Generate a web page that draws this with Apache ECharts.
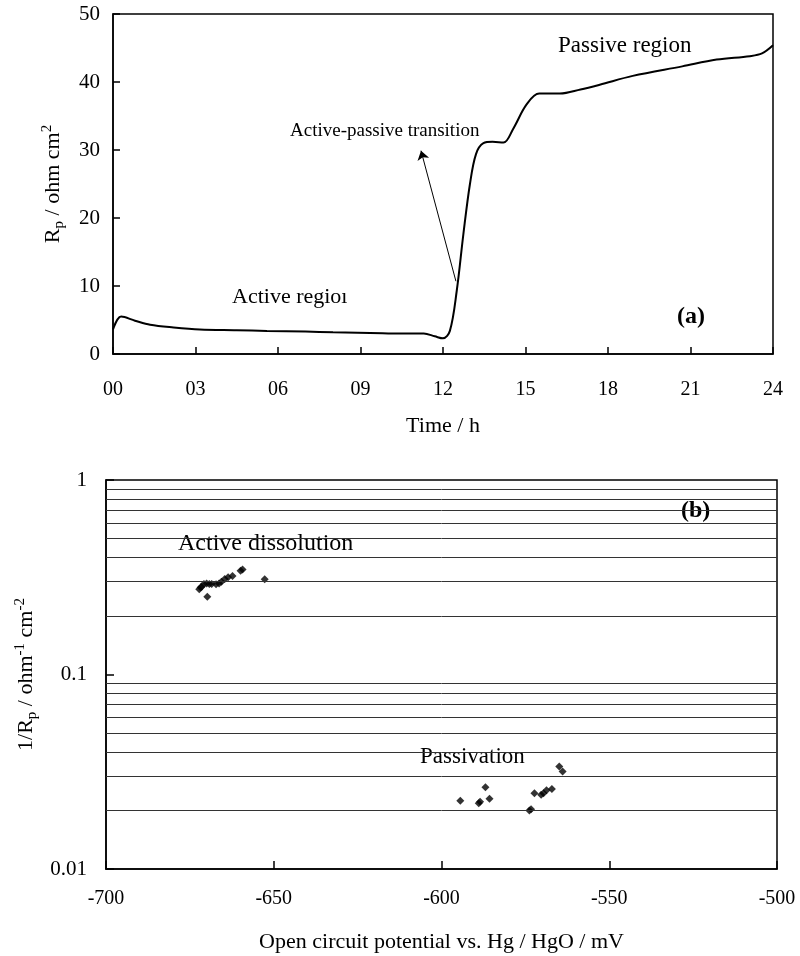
<!DOCTYPE html>
<html><head><meta charset="utf-8">
<script src="https://cdn.jsdelivr.net/npm/echarts@6/dist/echarts.min.js"></script>
<style>html,body{margin:0;padding:0;background:#fff}#c{width:800px;height:956px}</style>
</head><body><div id="c"></div>
<script>
// Panel (a): Rp vs time
const timeH = [0, 0.3, 0.8, 1.35, 2.2, 3.16, 4.5, 5.6, 7, 8.0, 9.8, 10.44, 11.3, 11.7, 12.0, 12.25, 12.5, 12.74, 12.98, 13.2, 13.47, 13.8, 14.2, 14.55, 15.04, 15.5, 16.25, 17.0, 17.7, 18.9, 20.7, 21.95, 23.16, 23.6, 24];
const rpVals = [3.6, 5.5, 4.9, 4.3, 3.9, 3.6, 3.5, 3.4, 3.3, 3.2, 3.05, 3.0, 3.0, 2.6, 2.3, 3.4, 9.3, 17.6, 25.0, 29.4, 31.0, 31.2, 31.1, 33.1, 36.7, 38.3, 38.3, 38.9, 39.6, 40.9, 42.3, 43.3, 43.8, 44.2, 45.4];
const xTickLabels = ['00','03','06','09','12','15','18','21','24'];

// Panel (b): 1/Rp vs open circuit potential
const activeE = [-672.2, -671.8, -671.5, -670.8, -670.0, -669.8, -669.2, -668.5, -667.2, -666.3, -665.6, -664.6, -663.6, -662.3, -659.9, -659.3, -652.7];
const activeInvRp = [0.274, 0.280, 0.283, 0.292, 0.294, 0.251, 0.292, 0.292, 0.291, 0.294, 0.300, 0.310, 0.316, 0.321, 0.342, 0.347, 0.309];
const passE = [-594.4, -588.9, -588.5, -586.9, -585.7, -573.8, -573.3, -572.3, -570.3, -569.6, -568.7, -567.1, -564.9, -563.9];
const passInvRp = [0.02245, 0.0218, 0.0222, 0.0263, 0.0230, 0.0200, 0.0203, 0.0245, 0.0241, 0.0245, 0.0254, 0.0258, 0.0337, 0.0317];
const gridLevels = [0.02,0.03,0.04,0.05,0.06,0.07,0.08,0.09,0.2,0.3,0.4,0.5,0.6,0.7,0.8,0.9];

const FONT = 'Liberation Serif';
const chart = echarts.init(document.getElementById('c'));
chart.setOption({
  animation: false,
  textStyle: { fontFamily: FONT, color: '#000' },
  grid: [
    { left: 113, top: 14, width: 660, height: 340, show: true, borderColor: '#000', borderWidth: 1.5, backgroundColor: 'transparent' },
    { left: 106, top: 480, width: 671, height: 389, show: true, borderColor: '#000', borderWidth: 1.5, backgroundColor: 'transparent' }
  ],
  xAxis: [
    { gridIndex: 0, type: 'value', min: 0, max: 24, interval: 3,
      axisLine: { lineStyle: { color: '#000', width: 1.5 } },
      axisTick: { inside: true, length: 7, lineStyle: { color: '#000', width: 1.5 } },
      axisLabel: { color: '#000', fontFamily: FONT, fontSize: 20, margin: 26, formatter: v => xTickLabels[Math.round(v / 3)] },
      splitLine: { show: false },
      name: 'Time / h', nameLocation: 'middle', nameGap: 61,
      nameTextStyle: { fontFamily: FONT, fontSize: 22, color: '#000' } },
    { gridIndex: 1, type: 'value', min: -700, max: -500, interval: 50,
      axisLine: { lineStyle: { color: '#000', width: 1.5 } },
      axisTick: { inside: true, length: 8, lineStyle: { color: '#000', width: 1.5 } },
      axisLabel: { color: '#000', fontFamily: FONT, fontSize: 20, margin: 20 },
      splitLine: { show: false },
      name: 'Open circuit potential vs. Hg / HgO / mV', nameLocation: 'middle', nameGap: 62,
      nameTextStyle: { fontFamily: FONT, fontSize: 22, color: '#000' } }
  ],
  yAxis: [
    { gridIndex: 0, type: 'value', min: 0, max: 50, interval: 10,
      axisLine: { lineStyle: { color: '#000', width: 1.5 } },
      axisTick: { inside: true, length: 7, lineStyle: { color: '#000', width: 1.5 } },
      axisLabel: { color: '#000', fontFamily: FONT, fontSize: 21, margin: 13 },
      splitLine: { show: false },
      name: '{a|R}{sub|p}{a| / ohm cm}{sup|2}', nameLocation: 'middle', nameGap: 46,
      nameTextStyle: { fontFamily: FONT, fontSize: 22, color: '#000',
        rich: { a: { fontFamily: FONT, fontSize: 22, color: '#000' },
                sub: { fontFamily: FONT, fontSize: 15, color: '#000', padding: [12, 0, 0, 0] },
                sup: { fontFamily: FONT, fontSize: 15, color: '#000', padding: [0, 0, 12, 0] } } } },
    { gridIndex: 1, type: 'log', logBase: 10, min: 0.01, max: 1,
      axisLine: { lineStyle: { color: '#000', width: 1.5 } },
      axisTick: { inside: true, length: 8, lineStyle: { color: '#000', width: 1.5 } },
      axisLabel: { color: '#000', fontFamily: FONT, fontSize: 21, margin: 19, formatter: v => String(+v.toPrecision(3)) },
      splitLine: { show: false },
      name: '{a|1/R}{sub|p}{a| / ohm}{sup|-1}{a| cm}{sup|-2}', nameLocation: 'middle', nameGap: 64,
      nameTextStyle: { fontFamily: FONT, fontSize: 22, color: '#000',
        rich: { a: { fontFamily: FONT, fontSize: 22, color: '#000' },
                sub: { fontFamily: FONT, fontSize: 15, color: '#000', padding: [12, 0, 0, 0] },
                sup: { fontFamily: FONT, fontSize: 15, color: '#000', padding: [0, 0, 12, 0] } } } }
  ],
  series: [
    { type: 'line', xAxisIndex: 0, yAxisIndex: 0, smooth: 0.35, showSymbol: false,
      lineStyle: { color: '#000', width: 2 },
      data: timeH.map((t, i) => [t, rpVals[i]]),
      markLine: { silent: true, symbol: ['none', 'arrow'], symbolSize: 9,
        lineStyle: { color: '#000', width: 1, type: 'solid' }, label: { show: false },
        data: [[{ coord: [12.47, 10.7] }, { coord: [11.2, 29.9] }]] } },
    { type: 'scatter', xAxisIndex: 1, yAxisIndex: 1, symbol: 'diamond', symbolSize: 8,
      itemStyle: { color: '#000' },
      data: activeE.map((e, i) => [e, activeInvRp[i]]),
      markLine: { silent: true, symbol: 'none', label: { show: false },
        lineStyle: { color: '#333', width: 1, type: 'solid' },
        data: gridLevels.map(v => ({ yAxis: v })) } },
    { type: 'scatter', xAxisIndex: 1, yAxisIndex: 1, symbol: 'diamond', symbolSize: 8,
      itemStyle: { color: '#000' },
      data: passE.map((e, i) => [e, passInvRp[i]]) }
  ],
  graphic: [
    { type: 'text', left: 232, top: 286, style: { text: 'Active regio\u0131', font: '22px "Liberation Serif"', fill: '#000' } },
    { type: 'text', left: 290, top: 122, style: { text: 'Active-passive transition', font: '19px "Liberation Serif"', fill: '#000' } },
    { type: 'text', left: 558, top: 34, style: { text: 'Passive region', font: '23px "Liberation Serif"', fill: '#000' } },
    { type: 'text', left: 677, top: 305, style: { text: '(a)', font: 'bold 24px "Liberation Serif"', fill: '#000' } },
    { type: 'text', left: 178, top: 532, style: { text: 'Active dissolution', font: '24px "Liberation Serif"', fill: '#000' } },
    { type: 'text', left: 420, top: 745, style: { text: 'Passivation', font: '23px "Liberation Serif"', fill: '#000' } },
    { type: 'text', left: 681, top: 499, style: { text: '(b)', font: 'bold 24px "Liberation Serif"', fill: '#000' } }
  ]
});
</script></body></html>
